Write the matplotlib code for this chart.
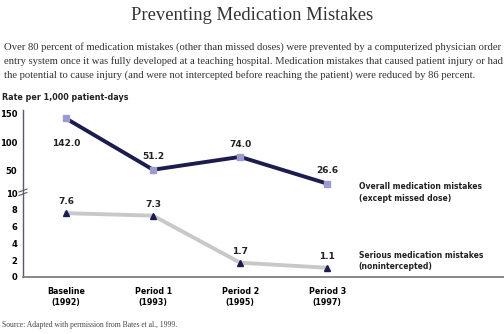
import matplotlib
matplotlib.use("Agg")
import matplotlib.pyplot as plt

periods = ["Baseline\n(1992)", "Period 1\n(1993)", "Period 2\n(1995)", "Period 3\n(1997)"]
overall = [142.0, 51.2, 74.0, 26.6]
serious = [7.6, 7.3, 1.7, 1.1]
top_ticks = [50, 100, 150]
bottom_ticks = [0, 2, 4, 6, 8, 10]

NAVY = "#1c1c4e"
LAVENDER = "#9b9bd0"
LIGHT = "#c8c8c8"
SPINE = "#5a5a6a"
SERIF = "Liberation Serif"
SANS = "DejaVu Sans"

fig = plt.figure(figsize=(5.04, 3.34), dpi=100)
left, width = 23 / 504, 1 - 23 / 504
ax_top = fig.add_axes([left, 1 - 193 / 334, width, 83 / 334])
ax_bot = fig.add_axes([left, 1 - 277 / 334, width, 84 / 334])

x = list(range(len(periods)))
xlim = (-0.494, 5.03)

ax_top.plot(x, overall, color=NAVY, lw=2.8, marker="s", ms=4.5,
            mfc=LAVENDER, mec=LAVENDER, zorder=3)
ax_bot.plot(x, serious, color=LIGHT, lw=2.8, marker="^", ms=4,
            mfc=NAVY, mec=NAVY, zorder=3)

ax_top.set_ylim(10, 157)
ax_bot.set_ylim(0, 10)
for ax in (ax_top, ax_bot):
    ax.set_xlim(*xlim)
    ax.patch.set_alpha(0)
    for s in ("top", "right"):
        ax.spines[s].set_visible(False)
    ax.spines["left"].set_color(SPINE)
    ax.spines["left"].set_linewidth(1.0)
    ax.tick_params(axis="y", length=0, pad=4, labelsize=6)

ax_top.spines["bottom"].set_visible(False)
ax_top.set_xticks([])
ax_top.set_yticks(top_ticks)
ax_bot.set_yticks(bottom_ticks)
ax_bot.spines["bottom"].set_color("#808080")
ax_bot.spines["bottom"].set_linewidth(1.3)
ax_bot.set_xticks(x)
ax_bot.set_xticklabels(periods, fontsize=5.7, linespacing=1.3)
ax_bot.tick_params(axis="x", length=0, pad=7)
for ax in (ax_top, ax_bot):
    for lab in ax.get_yticklabels() + ax.get_xticklabels():
        lab.set_fontweight("bold")
        lab.set_family(SANS)

# axis break marks
for dy in (-2.5, 1.0):
    fig.add_artist(plt.Line2D([19 / 504, 27 / 504],
                              [1 - (193 + dy + 1.5) / 334, 1 - (193 + dy - 1.5) / 334],
                              color=SPINE, lw=0.8))

# value labels
for i, v in enumerate(overall):
    off = -18 if i == 0 else 6
    ax_top.annotate(f"{v:.1f}", (i, v), xytext=(0, off), textcoords="offset points",
                    ha="center", va="center" if i == 0 else "bottom",
                    fontsize=6.5, fontweight="bold", color="#222222")
for i, v in enumerate(serious):
    ax_bot.annotate(f"{v:.1f}", (i, v), xytext=(0, 5), textcoords="offset points",
                    ha="center", va="bottom", fontsize=6.5, fontweight="bold",
                    color="#222222")

ax_top.text(3.36, 29, "Overall medication mistakes\n(except missed dose)",
            fontsize=5.5, fontweight="bold", color="#222222", va="top",
            linespacing=1.35, clip_on=False, zorder=5)
ax_bot.text(3.36, 1.9, "Serious medication mistakes\n(nonintercepted)",
            fontsize=5.5, fontweight="bold", color="#222222", va="center",
            linespacing=1.35, clip_on=False)

fig.text(0.5, 1 - 16 / 334, "Preventing Medication Mistakes", family=SERIF,
         fontsize=13.4, ha="center", va="center", color="#333333")
para = ("Over 80 percent of medication mistakes (other than missed doses) were prevented by a computerized physician order\n"
        "entry system once it was fully developed at a teaching hospital. Medication mistakes that caused patient injury or had\n"
        "the potential to cause injury (and were not intercepted before reaching the patient) were reduced by 86 percent.")
fig.text(4 / 504, 1 - 61 / 334, para, family=SERIF, fontsize=7.7, ha="left",
         va="center", linespacing=1.6, color="#333333")
fig.text(2 / 504, 1 - 97 / 334, "Rate per 1,000 patient-days", family=SANS,
         fontsize=5.8, fontweight="bold", ha="left", va="center", color="#222222")
fig.text(2 / 504, 1 - 325 / 334, "Source: Adapted with permission from Bates et al., 1999.",
         family=SERIF, fontsize=5.5, ha="left", va="center", color="#444444")

fig.savefig("out.png", dpi=100)
